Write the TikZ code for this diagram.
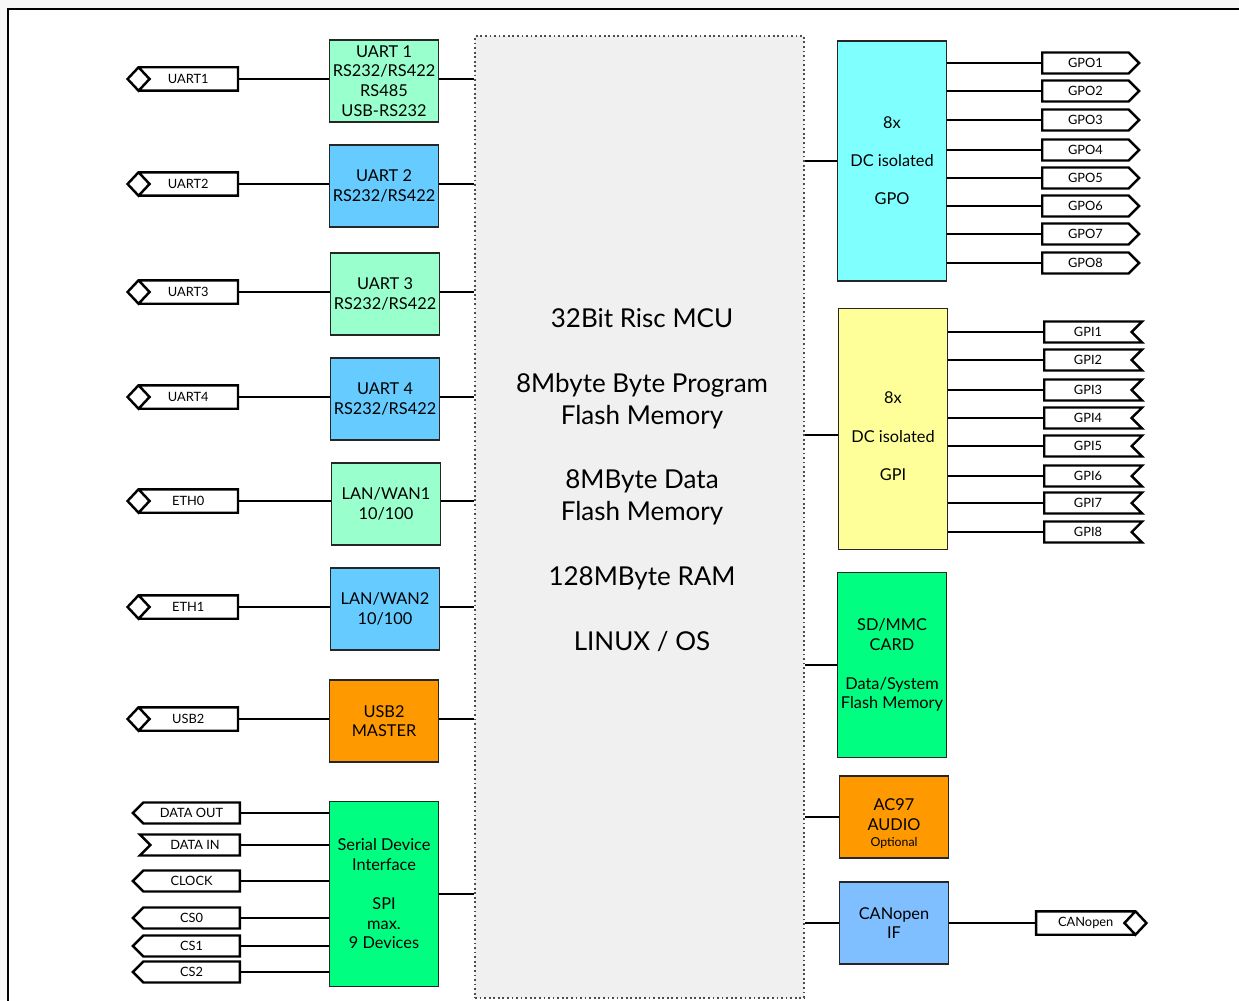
\documentclass[tikz,border=0pt]{standalone}
\usepackage{fontspec}
\setmainfont{Lato}
\usetikzlibrary{shapes.symbols}

\begin{document}
\begin{tikzpicture}[x=0.02cm, y=-0.02cm]
    \definecolor{pageColour}{HTML}{F7F7F7}
    \definecolor{mcuColour}{HTML}{F0F0F0}
    \definecolor{fillColourMint}{HTML}{99FFCC}
    \definecolor{fillColourSky}{HTML}{66CCFF}
    \definecolor{fillColourOrange}{HTML}{FF9900}
    \definecolor{fillColourGreen}{HTML}{00FF80}
    \definecolor{fillColourCyan}{HTML}{80FFFF}
    \definecolor{fillColourYellow}{HTML}{FFFF99}
    \definecolor{fillColourCan}{HTML}{80BFFF}

    \tikzset{
        block/.style={draw=black!85, line width=0.6pt, minimum width=2.18cm,
            minimum height=1.64cm, align=center, inner sep=1pt,
            font=\fontsize{9.3}{11.2}\selectfont},
        tallblock/.style={block, minimum height=3.7cm},
        portbox/.style={line width=1.4pt, minimum height=0.42cm, inner sep=0pt,
            font=\fontsize{7.3}{8}\selectfont},
        portout/.style={portbox, draw, signal, signal to=#1},
        portin/.style={portbox, draw, signal, signal from=#1, signal to=nowhere},
        spiout/.style={portout=west, minimum width=2.14cm},
        spiin/.style={portin=west, minimum width=2cm},
        portline/.style={line width=1.4pt, line join=miter},
        wire/.style={line width=0.6pt},
        stub/.style={line width=1.6pt},
        bus/.style={line width=1.2pt}
    }

    \useasboundingbox (0,0) rectangle (1239,1000);

    % Draw page and frame
    \fill[pageColour] (0,0) rectangle (1239,1000);
    \filldraw[fill=white, draw=black, line width=1.1pt] (8,9) rectangle (1260,1020);

    % Draw MCU
    \node[draw=black!70, fill=mcuColour, line width=0.8pt, dash pattern=on 1pt off 1.6pt,
        minimum width=6.58cm, minimum height=19.24cm] (mcu) at (639.5,517) {};
    \node[align=center, font=\fontsize{14.8}{18.1}\selectfont] (mcutext) at (642,480)
        {32Bit Risc MCU\\[18.8pt]8Mbyte Byte Program\\Flash Memory\\[18.8pt]8MByte Data\\Flash Memory\\[18.8pt]128MByte RAM\\[18.8pt]LINUX / OS};

    % Left blocks
    \node[block, fill=fillColourMint] (u1) at (384,81) {UART 1\\RS232/RS422\\RS485\\USB-RS232};
    \node[block, fill=fillColourSky] (u2) at (384,186) {UART 2\\RS232/RS422};
    \node[block, fill=fillColourMint] (u3) at (385,294) {UART 3\\RS232/RS422};
    \node[block, fill=fillColourSky] (u4) at (385,399) {UART 4\\RS232/RS422};
    \node[block, fill=fillColourMint] (l1) at (386,504) {LAN/WAN1\\10/100};
    \node[block, fill=fillColourSky] (l2) at (385,609) {LAN/WAN2\\10/100};
    \node[block, fill=fillColourOrange] (usb) at (384,721) {USB2\\MASTER};
    \node[tallblock, fill=fillColourGreen] (spi) at (384,894) {Serial Device\\Interface\\[11pt]SPI\\max.\\9 Devices};

    % Right blocks
    \node[block, fill=fillColourCyan, minimum height=4.8cm] (gpo) at (892,161) {8x\\[10.5pt]DC isolated\\[10.5pt]GPO};
    \node[block, fill=fillColourYellow, minimum height=4.82cm] (gpi) at (893,429) {\rule{0pt}{15pt}8x\\[10.5pt]DC isolated\\[10.5pt]GPI};
    \node[tallblock, fill=fillColourGreen] (sd) at (892,665) {SD/MMC\\CARD\\[11pt]Data/System\\Flash Memory};
    \node[block, fill=fillColourOrange] (ac) at (894,817) {\rule{0pt}{14pt}AC97\\AUDIO\\[-2pt]{\fontsize{7}{8}\selectfont Optional}};
    \node[block, fill=fillColourCan] (can) at (894,923) {CANopen\\IF};

    % Bidirectional ports on the left
    \foreach \lab/\y/\blk in {UART1/79/u1, UART2/184/u2, UART3/292/u3, UART4/397/u4,
                              ETH0/501/l1, ETH1/607/l2, USB2/719/usb} {
        \node[portbox, minimum width=1.94cm, anchor=east] (p\blk) at (238,\y) {\lab};
        \draw[portline] (p\blk.south west) -- (p\blk.south east) -- (p\blk.north east)
            -- (p\blk.north west) -- ([xshift=-0.22cm]p\blk.west) -- (p\blk.south west)
            -- ([xshift=0.22cm]p\blk.west) -- (p\blk.north west);
        \draw[stub] (p\blk.east) -- ++(10,0);
        \draw[wire] (p\blk.east) -- (p\blk.east -| \blk.west);
        \draw[bus] (p\blk.east -| \blk.east) -- (p\blk.east -| mcu.west);
    }

    % SPI ports
    \foreach \i/\lab/\y/\kind in {1/DATA OUT/813/out, 2/DATA IN/845/in, 3/CLOCK/881/out,
                                  4/CS0/918/out, 5/CS1/946/out, 6/CS2/972/out} {
        \node[spi\kind, anchor=east] (s\i) at (241,\y) {\lab};
        \draw[stub] (s\i.east) -- ++(10,0);
        \draw[wire] (s\i.east) -- (s\i.east -| spi.west);
    }
    \draw[bus] (spi.east) -- (spi.east -| mcu.west);

    % GPO ports
    \foreach \i/\y in {1/63, 2/91, 3/120, 4/150, 5/178, 6/206, 7/234, 8/263} {
        \node[portout=east, minimum width=1.94cm, anchor=west] (gpo\i) at (1041,\y) {GPO\i};
        \draw[stub] (gpo\i.west) -- ++(-10,0);
        \draw[wire] (gpo\i.west) -- (gpo\i.west -| gpo.east);
    }

    % GPI ports
    \foreach \i/\y in {1/332, 2/360, 3/390, 4/418, 5/446, 6/476, 7/503, 8/532} {
        \node[portin=east, minimum width=1.96cm, anchor=west] (gpi\i) at (1043,\y) {GPI\i};
        \draw[stub] (gpi\i.west) -- ++(-10,0);
        \draw[wire] (gpi\i.west) -- (gpi\i.west -| gpi.east);
    }

    % CANopen port
    \node[portbox, minimum width=1.94cm, anchor=west] (pcan) at (1036,923) {CANopen};
    \draw[portline] (pcan.south east) -- (pcan.south west) -- (pcan.north west)
        -- (pcan.north east) -- ([xshift=0.22cm]pcan.east) -- (pcan.south east)
        -- ([xshift=-0.22cm]pcan.east) -- (pcan.north east);
    \draw[stub] (pcan.west) -- ++(-10,0);
    \draw[wire] (pcan.west) -- (can.east);

    % Right blocks to MCU
    \foreach \blk in {gpo, sd, ac, can}
        \draw[bus] (\blk.west) -- (\blk.west -| mcu.east);
    \draw[bus] ([yshift=-0.12cm]gpi.west) -- ([yshift=-0.12cm]gpi.west -| mcu.east);

\end{tikzpicture}
\end{document}
